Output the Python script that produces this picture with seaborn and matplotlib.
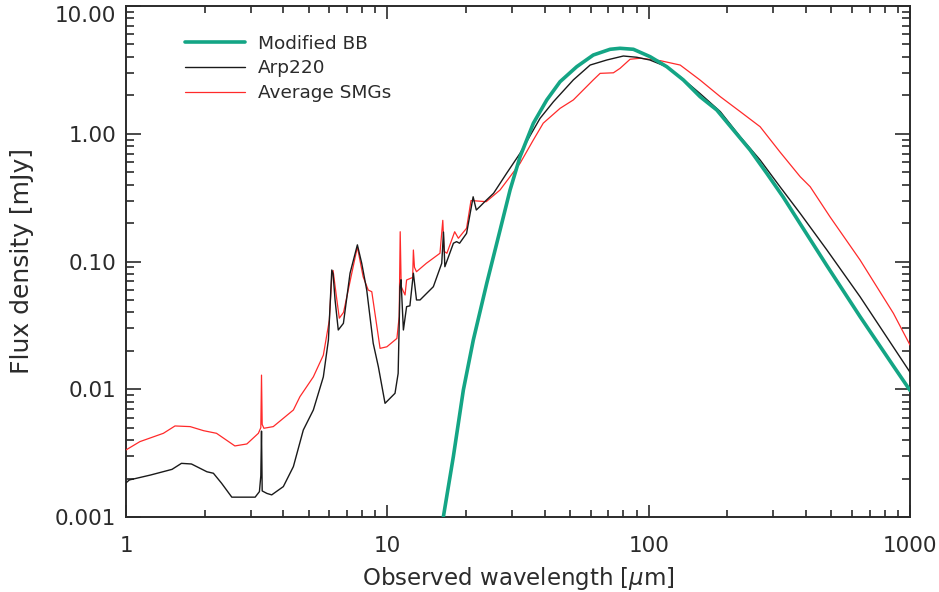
import matplotlib
matplotlib.use("Agg")
import matplotlib.pyplot as plt
from matplotlib.ticker import LogLocator, NullFormatter
import seaborn as sns
import pandas as pd

# Modified black body fit
bb_wl = [16.38, 17.89, 19.54, 21.33, 24.01, 27.0, 29.49, 32.2, 36.2, 40.74, 45.8,
         53.06, 61.4, 71.2, 77.7, 87.4, 101.3, 117.3, 135.8, 157.3, 182.2, 211,
         244.4, 283.1, 327.7, 379.6, 480.4, 644.2, 864, 1000]
bb_flux = [0.001, 0.00297, 0.00987, 0.0243, 0.0675, 0.176, 0.363, 0.661, 1.207,
           1.838, 2.555, 3.349, 4.134, 4.583, 4.666, 4.583, 4.01, 3.349, 2.635,
           1.95, 1.535, 1.07, 0.746, 0.49, 0.318, 0.198, 0.093, 0.037, 0.0152,
           0.0098]

# Arp220 template
arp_wl = [1.0, 1.03, 1.24, 1.5, 1.63, 1.78, 2.04, 2.16, 2.32, 2.54, 3.12, 3.24,
          3.28, 3.30, 3.32, 3.46, 3.61, 4.0, 4.37, 4.77, 5.21, 5.69, 5.95, 6.13,
          6.2, 6.31, 6.49, 6.79, 7.2, 7.68, 7.98, 8.34, 8.83, 9.24, 9.8, 10.7,
          11.0, 11.18, 11.28, 11.52, 11.85, 12.2, 12.58, 12.93, 13.34, 15.0,
          16.15, 16.4, 16.6, 17.9, 18.4, 18.9, 20.1, 21.3, 21.9, 22.6, 23.6,
          25.5, 28.6, 32.2, 36.2, 38.4, 43.2, 51.5, 59.7, 69.2, 80, 90, 101, 117,
          132, 157, 188, 224, 267, 318, 380, 481, 644, 1000]
arp_flux = [0.00185, 0.00195, 0.00213, 0.00236, 0.00263, 0.0026, 0.00226, 0.0022,
            0.00184, 0.00143, 0.00143, 0.00158, 0.0021, 0.0047, 0.0016, 0.00153,
            0.00149, 0.00173, 0.00248, 0.0048, 0.00688, 0.0125, 0.0243, 0.0858,
            0.080, 0.05, 0.0291, 0.0328, 0.081, 0.135, 0.0968, 0.0598, 0.0229,
            0.015, 0.00776, 0.0093, 0.0133, 0.0635, 0.072, 0.0291, 0.0443, 0.045,
            0.081, 0.05, 0.05, 0.0635, 0.0968, 0.17, 0.091, 0.139, 0.143, 0.139,
            0.166, 0.321, 0.253, 0.269, 0.294, 0.342, 0.49, 0.703, 1.07, 1.32,
            1.78, 2.64, 3.45, 3.78, 4.06, 3.97, 3.78, 3.35, 2.8, 2.07, 1.49,
            0.948, 0.623, 0.385, 0.238, 0.123, 0.053, 0.0136]

# Average SMG template
smg_wl = [1.0, 1.13, 1.39, 1.54, 1.76, 1.98, 2.22, 2.61, 2.9, 3.21, 3.28, 3.30,
          3.32, 3.37, 3.66, 4.37, 4.63, 5.21, 5.69, 6.0, 6.13, 6.2, 6.41, 6.55,
          6.8, 7.31, 7.68, 8.08, 8.45, 8.72, 9.38, 9.96, 10.88, 11.1, 11.2, 11.3,
          11.69, 11.85, 12.5, 12.58, 12.7, 12.93, 14.1, 15.9, 16.3, 16.5, 16.9,
          18.1, 18.7, 20.1, 20.9, 23.9, 27.0, 32.2, 36.2, 39.5, 45.8, 51.5, 61.4,
          65.2, 73.3, 77.7, 84.9, 93, 111, 132, 157, 188, 224, 267, 318, 380,
          415, 494, 644, 864, 1000]
smg_flux = [0.00335, 0.00389, 0.00452, 0.00516, 0.0051, 0.00474, 0.00452, 0.0036,
            0.00373, 0.00452, 0.005, 0.0129, 0.0053, 0.00495, 0.0051, 0.00688,
            0.00875, 0.0125, 0.0185, 0.0348, 0.076, 0.085, 0.05, 0.036, 0.04,
            0.081, 0.13, 0.076, 0.0598, 0.058, 0.0209, 0.0215, 0.025, 0.037,
            0.171, 0.0635, 0.0547, 0.0717, 0.075, 0.123, 0.09, 0.0832, 0.0968,
            0.116, 0.21, 0.12, 0.116, 0.171, 0.152, 0.182, 0.30, 0.294, 0.363,
            0.587, 0.894, 1.21, 1.58, 1.84, 2.64, 2.97, 3.0, 3.25, 3.83, 3.9,
            3.73, 3.45, 2.64, 1.95, 1.49, 1.135, 0.72, 0.461, 0.385, 0.224,
            0.1028, 0.0393, 0.0222]

labels = ["Modified BB", "Arp220", "Average SMGs"]
colors = ["#14a585", "#1a1a1a", "#ff2a2a"]
widths = [2.6, 1.0, 0.9]

x_ticks = [1, 10, 100, 1000]
x_ticklabels = ["1", "10", "100", "1000"]
y_ticks = [0.001, 0.01, 0.1, 1, 10]
y_ticklabels = ["0.001", "0.01", "0.10", "1.00", "10.00"]

sns.set_theme(style="ticks")
plt.rcParams["font.family"] = ["DejaVu Sans"]
ink = "#2b2b2b"

fig = plt.figure(figsize=(9.39, 5.92), dpi=100)
ax = fig.add_axes([126 / 939, 75 / 592, 784 / 939, 511 / 592])

frames = {
    labels[0]: pd.DataFrame({"wl": bb_wl, "flux": bb_flux}),
    labels[1]: pd.DataFrame({"wl": arp_wl, "flux": arp_flux}),
    labels[2]: pd.DataFrame({"wl": smg_wl, "flux": smg_flux}),
}

# draw the templates first, the fit on top
for idx in (2, 1, 0):
    name = labels[idx]
    sns.lineplot(data=frames[name], x="wl", y="flux", ax=ax, color=colors[idx],
                 linewidth=widths[idx], sort=False, estimator=None, label=name,
                 zorder=3 + (2 - idx))

ax.set_xscale("log")
ax.set_yscale("log")
ax.set_xlim(1, 1000)
ax.set_ylim(0.001, 10)

ax.set_xticks(x_ticks)
ax.set_xticklabels(x_ticklabels)
ax.set_yticks(y_ticks)
ax.set_yticklabels(y_ticklabels)
ax.xaxis.set_minor_locator(LogLocator(base=10, subs=range(2, 10)))
ax.yaxis.set_minor_locator(LogLocator(base=10, subs=range(2, 10)))
ax.xaxis.set_minor_formatter(NullFormatter())
ax.yaxis.set_minor_formatter(NullFormatter())

ax.tick_params(axis="both", which="both", direction="in", top=True, right=True,
               color=ink, width=1.2, labelcolor=ink, labelsize=15.5)
ax.tick_params(axis="x", which="major", length=9, pad=14)
ax.tick_params(axis="x", which="minor", length=5)
ax.tick_params(axis="y", which="major", length=11, pad=7)
ax.tick_params(axis="y", which="minor", length=6)

# the top label hangs below the upper frame edge
ax.get_yticklabels()[-1].set_verticalalignment("top")

for sp in ax.spines.values():
    sp.set_color(ink)
    sp.set_linewidth(1.4)

ax.set_xlabel("Observed wavelength [$\\mu$m]", fontsize=16.5, color=ink, labelpad=6)
ax.set_ylabel("Flux density [mJy]", fontsize=18, color=ink, labelpad=15)

handles, labs = ax.get_legend_handles_labels()
order = [labs.index(n) for n in labels]
leg = ax.legend([handles[i] for i in order], [labs[i] for i in order],
                loc="upper left", bbox_to_anchor=(0.0753, 0.944), frameon=False,
                fontsize=13.3, handlelength=3.25, handletextpad=0.7,
                labelspacing=0.37, borderpad=0, borderaxespad=0)
for t in leg.get_texts():
    t.set_color(ink)

fig.savefig("out.png", dpi=100)
